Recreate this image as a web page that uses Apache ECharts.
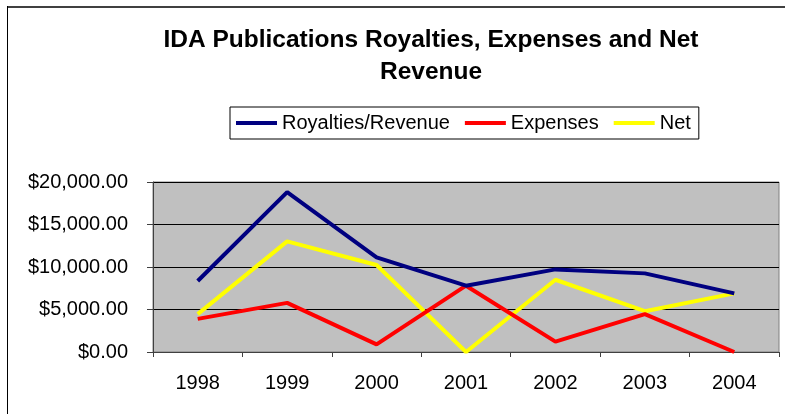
<!DOCTYPE html>
<html>
<head>
<meta charset="utf-8">
<script src="https://cdn.jsdelivr.net/npm/echarts@6/dist/echarts.min.js"></script>
<style>
html,body{margin:0;padding:0;background:#fff;}
#chart{width:785px;height:414px;}
</style>
</head>
<body>
<div id="chart"></div>
<script>
const years = ['1998','1999','2000','2001','2002','2003','2004'];
const royalties = [8350, 18800, 11130, 7800, 9720, 9250, 6900];
const expenses  = [3900, 5780, 890, 7800, 1220, 4450, 0];
const net       = [4450, 13020, 10240, 0, 8500, 4800, 6900];
const seriesNames = ['Royalties/Revenue', 'Expenses', 'Net'];
const yTicks = { min: 0, max: 20000, interval: 5000 };

const FONT = 'Liberation Sans, Arial, sans-serif';
const chart = echarts.init(document.getElementById('chart'), null, {renderer: 'canvas'});

function money(v) {
  return '$' + v.toLocaleString('en-US', {minimumFractionDigits: 2, maximumFractionDigits: 2});
}

const colors = ['#000080', '#FF0000', '#FFFF00'];
const datasets = [royalties, expenses, net];

chart.setOption({
  animation: false,
  backgroundColor: '#ffffff',
  title: {
    text: 'IDA Publications Royalties, Expenses and Net\nRevenue',
    left: 426,
    top: 19,
    textAlign: 'center',
    textStyle: { fontFamily: FONT, fontWeight: 'bold', fontSize: 24.5, color: '#000', lineHeight: 32 }
  },
  legend: {
    left: 230,
    top: 107,
    padding: [6, 8, 6, 6],
    itemGap: 15,
    itemWidth: 41,
    itemHeight: 4,
    icon: 'rect',
    borderColor: '#000',
    borderWidth: 1,
    textStyle: { fontFamily: FONT, fontSize: 20, color: '#000', lineHeight: 20 },
    data: seriesNames
  },
  graphic: [
    { type: 'line', shape: { x1: 7, y1: 7, x2: 785, y2: 7 }, style: { stroke: '#404040', lineWidth: 2 } },
    { type: 'line', shape: { x1: 7.5, y1: 6, x2: 7.5, y2: 414 }, style: { stroke: '#000', lineWidth: 1 } }
  ],
  grid: {
    left: 153, right: 6, top: 182, bottom: 62,
    show: true,
    backgroundColor: '#C0C0C0',
    borderColor: '#808080',
    borderWidth: 1
  },
  xAxis: {
    type: 'category',
    data: years,
    boundaryGap: true,
    axisLine: { lineStyle: { color: '#404040', width: 1 } },
    axisTick: { show: true, length: 5, inside: false, lineStyle: { color: '#404040' } },
    axisLabel: { fontFamily: FONT, fontSize: 20, color: '#000', margin: 21 }
  },
  yAxis: {
    type: 'value',
    min: yTicks.min, max: yTicks.max, interval: yTicks.interval,
    axisLine: { show: true, lineStyle: { color: '#404040', width: 1 } },
    axisTick: { show: true, length: 6, inside: false, lineStyle: { color: '#404040' } },
    splitLine: { show: true, lineStyle: { color: '#000', width: 1 } },
    axisLabel: { fontFamily: FONT, fontSize: 20, color: '#000', margin: 25, formatter: money }
  },
  series: seriesNames.map((n, i) => ({
    name: n,
    type: 'line',
    data: datasets[i],
    symbol: 'none',
    color: colors[i],
    lineStyle: { color: colors[i], width: 4 },
    z: 3 - i
  }))
});
</script>
</body>
</html>
